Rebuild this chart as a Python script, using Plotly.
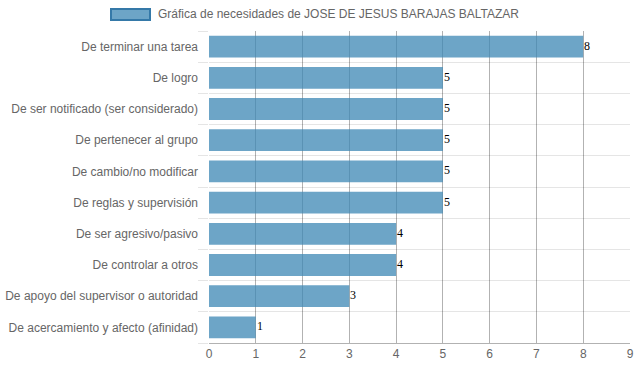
import plotly.graph_objects as go

categories = [
    "De terminar una tarea",
    "De logro",
    "De ser notificado (ser considerado)",
    "De pertenecer al grupo",
    "De cambio/no modificar",
    "De reglas y supervisión",
    "De ser agresivo/pasivo",
    "De controlar a otros",
    "De apoyo del supervisor o autoridad",
    "De acercamiento y afecto (afinidad)",
]
values = [8, 5, 5, 5, 5, 5, 4, 4, 3, 1]
x_ticks = [0, 1, 2, 3, 4, 5, 6, 7, 8, 9]
series_name = "Gráfica de necesidades de JOSE DE JESUS BARAJAS BALTAZAR"

bar_fill = "rgba(60,135,180,0.75)"
bar_line = "#3579a8"
grid_v = "rgba(0,0,0,0.3)"
grid_h = "rgba(0,0,0,0.1)"
txt = "#666666"

L, R, T, B = 209, 7, 31, 28
PW = 637 - L - R
PH = 371 - T - B
n = len(categories)

fig = go.Figure()
fig.add_trace(go.Bar(
    y=categories, x=values, orientation="h",
    marker=dict(color=bar_fill, line=dict(width=0)),
    width=0.7, name=series_name, showlegend=False, hoverinfo="x+y",
))
# invisible helper trace so the boundary-grid axis is drawn
fig.add_trace(go.Scatter(x=[0], y=[0], yaxis="y2", mode="markers",
                         marker=dict(opacity=0), showlegend=False, hoverinfo="skip"))

# value labels
for c, v in zip(categories, values):
    fig.add_annotation(x=v, y=c, text=str(v), showarrow=False,
                       xanchor="left", yanchor="middle", xshift=-1, yshift=1,
                       font=dict(family="Liberation Serif", size=12, color="#000000"))

# legend imitation
fig.add_shape(type="rect", xref="paper", yref="paper",
              x0=(111 - L) / PW, x1=(150 - L) / PW,
              y0=1 + (T - 20) / PH, y1=1 + (T - 9) / PH,
              fillcolor=bar_fill, line=dict(color=bar_line, width=2))
fig.add_annotation(xref="paper", yref="paper",
                   x=(156 - L) / PW, y=1 + (T - 14) / PH,
                   text=series_name, showarrow=False, xanchor="left", yanchor="middle",
                   font=dict(family="Liberation Sans", size=12, color=txt))

fig.update_layout(
    width=637, height=371,
    margin=dict(l=L, r=R, t=T, b=B, autoexpand=False),
    paper_bgcolor="white", plot_bgcolor="white",
    font=dict(family="Liberation Sans", size=12, color=txt),
    bargap=0.3,
    yaxis=dict(autorange="reversed", showgrid=False, zeroline=False,
               showline=False, ticks="", ticklabelstandoff=10,
               automargin=False, tickfont=dict(size=12, color=txt)),
    yaxis2=dict(overlaying="y", side="left", range=[n - 0.5, -0.5],
                tickvals=[k - 0.5 for k in range(n + 1)], showticklabels=False,
                showgrid=True, gridcolor=grid_h, gridwidth=1, zeroline=False,
                ticks="outside", ticklen=10, tickcolor=grid_h, showline=False,
                automargin=False, fixedrange=True),
)
fig.update_xaxes(range=[0, 9], tickvals=x_ticks, showgrid=True, gridcolor=grid_v,
                 gridwidth=1, zeroline=False, showline=True, linecolor=grid_v,
                 ticks="", automargin=False, ticklabeloverflow="allow",
                 tickfont=dict(size=12, color=txt), layer="above traces")

fig.write_html("out.html", config={"displayModeBar": False},
               post_script="document.body.style.margin='0';")
